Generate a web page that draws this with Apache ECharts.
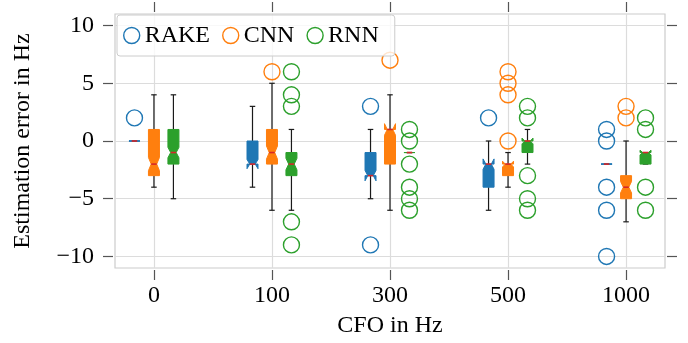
<!DOCTYPE html>
<html>
<head>
<meta charset="utf-8">
<script src="https://cdn.jsdelivr.net/npm/echarts@6.0.0/dist/echarts.min.js"></script>
<style>
  html, body { margin: 0; padding: 0; background: #fff; }
  #chart { width: 688px; height: 343px; }
</style>
</head>
<body>
<div id="chart"></div>
<script>
const categories = ['0', '100', '300', '500', '1000'];
const yTicks = [-10, -5, 0, 5, 10];
const methods = ['RAKE', 'CNN', 'RNN'];

// [lower whisker, Q1, median, Q3, upper whisker] per CFO
const rakeBox = [[0, 0, 0, 0, 0], [-4, -2, -2, 0, 3], [-5, -3, -3, -1, 1], [-6, -4, -2, -2, 0], [-2, -2, -2, -2, -2]];
const cnnBox = [[-4, -3, -2, 1, 4], [-6, -2, -1, 1, 5], [-6, -2, 1, 1, 4], [-4, -3, -2, -2, -1], [-7, -5, -4, -3, 0]];
const rnnBox = [[-5, -2, -1, 1, 4], [-6, -3, -2, -1, 1], [-1, -1, -1, -1, -1], [-2, -1, 0, 0, 1], [-2, -2, -1, -1, -1]];

// notch half height (median confidence interval)
const rakeNotch = [0, 0.4, 0.45, 0.45, 0];
const cnnNotch = [0.57, 0.57, 0.5, 0.25, 0.5];
const rnnNotch = [0.45, 0.5, 0, 0.25, 0.2];

// outliers
const rakeFliers = [[2], [], [3, -9], [2], [1, 0, -4, -6, -10]];
const cnnFliers = [[], [6], [7], [6, 5, 4, 0], [3, 2]];
const rnnFliers = [[], [6, 4, 3, -7, -9], [1, 0, -2, -4, -5, -6], [3, 2, -3, -5, -6], [2, 1, -4, -6]];

const colors = ['#1f77b4', '#ff7f0e', '#2ca02c'];
const offsets = [-0.165, 0, 0.165];
const BOX_W = 11;
const FONT = 'Liberation Serif';
const FS = 24;

const boxes = [rakeBox, cnnBox, rnnBox];
const notches = [rakeNotch, cnnNotch, rnnNotch];
const fliers = [rakeFliers, cnnFliers, rnnFliers];

const fmtY = v => v < 0 ? '\u2212' + (-v) : String(v);

function renderBox(params, api) {
  const x = api.value(0);
  const lo = api.value(1), q1 = api.value(2), med = api.value(3), q3 = api.value(4), hi = api.value(5);
  const n = api.value(6);
  const y = v => api.coord([x, v])[1];
  const cx = api.coord([x, med])[0];
  const hw = BOX_W / 2, cw = BOX_W / 4;
  const color = api.visual('color');
  const wStyle = { stroke: '#1a1a1a', lineWidth: 1.2 };
  const l = cx - hw, r = cx + hw;
  const pts = [
    [l, y(q1)], [l, y(med - n)], [cx - cw, y(med)], [l, y(med + n)], [l, y(q3)],
    [r, y(q3)], [r, y(med + n)], [cx + cw, y(med)], [r, y(med - n)], [r, y(q1)]
  ];
  return {
    type: 'group',
    children: [
      { type: 'line', shape: { x1: cx, y1: y(q1), x2: cx, y2: y(lo) }, style: wStyle },
      { type: 'line', shape: { x1: cx, y1: y(q3), x2: cx, y2: y(hi) }, style: wStyle },
      { type: 'line', shape: { x1: cx - cw, y1: y(lo), x2: cx + cw, y2: y(lo) }, style: wStyle },
      { type: 'line', shape: { x1: cx - cw, y1: y(hi), x2: cx + cw, y2: y(hi) }, style: wStyle },
      { type: 'polygon', shape: { points: pts }, style: { fill: color, stroke: color, lineWidth: 1 } },
      { type: 'line', shape: { x1: cx - cw, y1: y(med), x2: cx + cw, y2: y(med) }, style: { stroke: '#d62728', lineWidth: 1.6 } }
    ]
  };
}

const series = [];
methods.forEach((m, k) => {
  const pts = [];
  fliers[k].forEach((vals, i) => vals.forEach(v => pts.push([i + offsets[k], v])));
  series.push({
    name: m,
    type: 'scatter',
    z: 3,
    symbol: 'circle',
    symbolSize: 16,
    itemStyle: { color: 'rgba(0,0,0,0)', borderColor: colors[k], borderWidth: 1.4, opacity: 1 },
    data: pts
  });
});
methods.forEach((m, k) => {
  series.push({
    name: m,
    type: 'custom',
    z: 2,
    itemStyle: { color: colors[k] },
    renderItem: renderBox,
    encode: { x: 0, y: [1, 2, 3, 4, 5] },
    data: boxes[k].map((b, i) => [i + offsets[k], ...b, notches[k][i]])
  });
});

const tickIdx = categories.map((c, i) => i);
const axisTickStyle = { show: true, inside: false, length: 10, lineStyle: { color: '#555', width: 1.2 } };
const noLine = { show: false, onZero: false };

const chart = echarts.init(document.getElementById('chart'), null, { renderer: 'canvas' });
chart.setOption({
  animation: false,
  textStyle: { fontFamily: FONT },
  grid: { left: 115, top: 14, width: 550, height: 259, show: true, borderColor: '#cccccc', borderWidth: 1.2, backgroundColor: 'transparent' },
  legend: {
    data: methods,
    left: 117, top: 15,
    icon: 'circle',
    itemWidth: 16, itemHeight: 16,
    itemGap: 12,
    padding: [8, 16, 8, 6],
    backgroundColor: 'rgba(255,255,255,0.8)',
    borderColor: '#cccccc', borderWidth: 1, borderRadius: 3,
    itemStyle: { borderWidth: 1.4 },
    textStyle: { fontFamily: FONT, fontSize: FS, color: '#000', lineHeight: 25 }
  },
  xAxis: [{
    type: 'value', min: -0.33, max: 4.33, offset: 2,
    name: 'CFO in Hz', nameLocation: 'middle', nameGap: 44,
    nameTextStyle: { fontFamily: FONT, fontSize: FS, color: '#000' },
    axisLine: noLine,
    axisTick: Object.assign({ customValues: tickIdx }, axisTickStyle),
    axisLabel: { customValues: tickIdx, formatter: v => categories[Math.round(v)], fontFamily: FONT, fontSize: FS, color: '#000', margin: 14 },
    splitLine: { show: true, lineStyle: { color: '#dcdcdc', width: 1.2 } }
  }, {
    type: 'value', position: 'top', min: -0.33, max: 4.33, offset: 2,
    axisLine: noLine,
    axisTick: Object.assign({ customValues: tickIdx }, axisTickStyle),
    axisLabel: { show: false, customValues: tickIdx },
    splitLine: { show: false }
  }],
  yAxis: [{
    type: 'value', min: -11, max: 11, offset: 2,
    name: 'Estimation error in Hz', nameLocation: 'middle', nameGap: 78,
    nameTextStyle: { fontFamily: FONT, fontSize: FS, color: '#000' },
    axisLine: noLine,
    axisTick: Object.assign({ customValues: yTicks }, axisTickStyle),
    axisLabel: { customValues: yTicks, formatter: fmtY, fontFamily: FONT, fontSize: FS, color: '#000', margin: 19 },
    splitLine: { show: true, lineStyle: { color: '#dcdcdc', width: 1.2 } }
  }, {
    type: 'value', position: 'right', min: -11, max: 11, offset: 2,
    axisLine: noLine,
    axisTick: Object.assign({ customValues: yTicks }, axisTickStyle),
    axisLabel: { show: false, customValues: yTicks },
    splitLine: { show: false }
  }],
  series: series
});
</script>
</body>
</html>
